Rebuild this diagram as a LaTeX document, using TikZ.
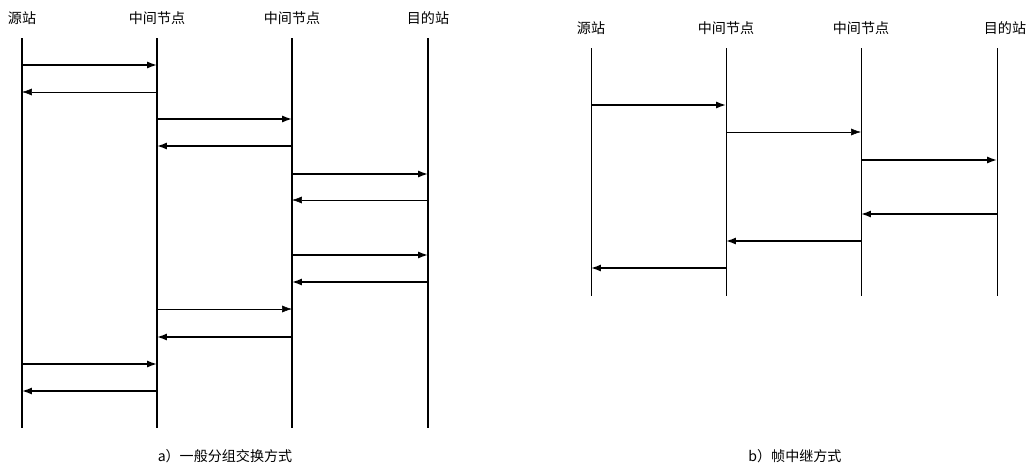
\documentclass[tikz,border=0pt]{standalone}
\usepackage{fontspec}
\newfontfamily\cjk{Noto Sans CJK SC}
\usetikzlibrary{arrows.meta}

\begin{document}
\begin{tikzpicture}[x=0.025cm,y=-0.025cm,
    lbl/.style={font=\cjk\fontsize{10}{12}\selectfont,inner sep=0pt},
    thick arr/.style={-{Latex[length=7pt,width=5pt]},line width=1.1pt},
    thin arr/.style={-{Latex[length=7pt,width=5pt]},line width=0.4pt}]
    \useasboundingbox (0,0) rectangle (1030,469);

    % a) left diagram
    \foreach \n/\x/\t in {A0/22/源站,A1/157/中间节点,A2/292/中间节点,A3/428/目的站}{
        \node[lbl] (\n) at (\x,18) {\t};
        \draw[line width=0.8pt] (\x,38) -- (\x,428);
    }
    \foreach \i/\f/\g/\y/\s in {1/22/157/65/thick,2/157/22/92/thin,3/157/292/119/thick,
        4/292/157/146/thick,5/292/428/174/thick,6/428/292/200/thin,7/292/428/255/thick,
        8/428/292/282/thick,9/157/292/309/thin,10/292/157/337/thick,11/22/157/364/thick,
        12/157/22/391/thick}{
        \coordinate (a\i s) at (\f,\y);
        \coordinate (a\i e) at (\g,\y);
        \draw[\s\space arr] (a\i s) -- (a\i e);
    }
    \node[lbl] (capa) at (225,456) {a）一般分组交换方式};

    % b) right diagram
    \foreach \n/\x/\t in {B0/591/源站,B1/726/中间节点,B2/861/中间节点,B3/1005/目的站}{
        \node[lbl] (\n) at (\x,28) {\t};
    }
    \foreach \x in {591,726,861,997}{
        \draw[line width=0.6pt] (\x,48) -- (\x,296);
    }
    \foreach \i/\f/\g/\y/\s in {1/591/726/105/thick,2/726/861/132/thin,3/861/997/160/thick,
        4/997/861/214/thick,5/861/726/241/thick,6/726/591/268/thick}{
        \coordinate (b\i s) at (\f,\y);
        \coordinate (b\i e) at (\g,\y);
        \draw[\s\space arr] (b\i s) -- (b\i e);
    }
    \node[lbl] (capb) at (795,456) {b）帧中继方式};
\end{tikzpicture}
\end{document}
